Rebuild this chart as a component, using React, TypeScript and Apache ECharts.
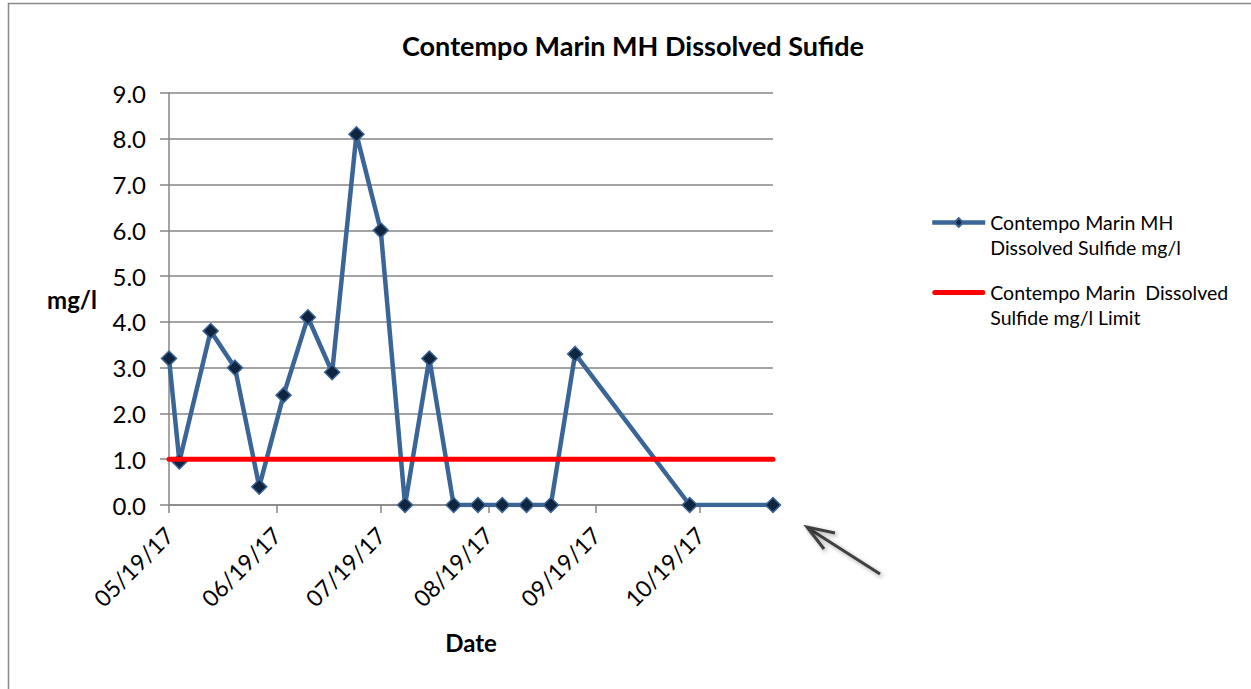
import React, { useEffect, useRef } from "react";
import * as echarts from "echarts";

const sampleDates = [
  "2017-05-19", "2017-05-22", "2017-05-31", "2017-06-07", "2017-06-14",
  "2017-06-21", "2017-06-28", "2017-07-05", "2017-07-12", "2017-07-19",
  "2017-07-26", "2017-08-02", "2017-08-09", "2017-08-16", "2017-08-23",
  "2017-08-30", "2017-09-06", "2017-09-13", "2017-10-16", "2017-11-09",
];
const sulfideValues = [
  3.2, 0.95, 3.8, 3.0, 0.4, 2.4, 4.1, 2.9, 8.1, 6.0,
  0.0, 3.2, 0.0, 0.0, 0.0, 0.0, 0.0, 3.3, 0.0, 0.0,
];
const limitValues = [
  1.0, 1.0, 1.0, 1.0, 1.0, 1.0, 1.0, 1.0, 1.0, 1.0,
  1.0, 1.0, 1.0, 1.0, 1.0, 1.0, 1.0, 1.0, 1.0, 1.0,
];
const tickDates = ["2017-05-19", "2017-06-19", "2017-07-19", "2017-08-19", "2017-09-19", "2017-10-19"];

const seriesName1 = "Contempo Marin MH\nDissolved Sulfide mg/l";
const seriesName2 = "Contempo Marin  Dissolved\nSulfide mg/l Limit";
const titleText = "Contempo Marin MH Dissolved Sufide";

const toTs = (s: string) => new Date(s + "T00:00:00").getTime();
const pad = (n: number) => (n < 10 ? "0" + n : "" + n);
const fmtDate = (v: number) => {
  const d = new Date(v);
  return `${pad(d.getMonth() + 1)}/${pad(d.getDate())}/${pad(d.getFullYear() % 100)}`;
};

const FONT = "Lato";
const BLUE = "#3B6497";

export default function App() {
  const ref = useRef<HTMLDivElement>(null);
  useEffect(() => {
    if (!ref.current) return;
    const chart = echarts.init(ref.current, undefined, { renderer: "svg" });
    const xs = sampleDates.map(toTs);
    const ticks = tickDates.map(toTs);
    chart.setOption({
      animation: false,
      backgroundColor: "#ffffff",
      textStyle: { fontFamily: FONT },
      title: {
        text: titleText,
        left: 628,
        top: 27,
        textAlign: "center",
        textStyle: { fontFamily: FONT, fontWeight: "bold", fontSize: 27, color: "#000" },
      },
      grid: { left: 169, right: 478, top: 93, bottom: 184, containLabel: false },
      legend: {
        orient: "vertical",
        left: 930,
        top: 185,
        padding: 0,
        itemWidth: 53,
        itemHeight: 11,
        itemGap: -5,
        formatter: (name: string) => "\n" + name,
        textStyle: { fontFamily: FONT, fontSize: 19.5, lineHeight: 25, color: "#000" },
        lineStyle: { width: 4.5 },
        data: [
          { name: seriesName1 },
          { name: seriesName2, icon: "path://M2.5,0 L50.5,0 A2.5,2.5 0 0 1 50.5,5 L2.5,5 A2.5,2.5 0 0 1 2.5,0 Z", itemStyle: { color: "#FF0000" } },
        ],
      },
      xAxis: {
        type: "value",
        min: xs[0],
        max: xs[xs.length - 1],
        name: "Date",
        nameLocation: "middle",
        nameGap: 125,
        nameTextStyle: { fontFamily: FONT, fontWeight: "bold", fontSize: 24, color: "#000" },
        axisLine: { show: true, lineStyle: { color: "#868686", width: 1.5 } },
        axisTick: { show: true, length: 8, lineStyle: { color: "#868686", width: 1.5 }, customValues: ticks },
        axisLabel: {
          customValues: ticks,
          rotate: 45,
          formatter: (v: number) => fmtDate(v),
          fontFamily: FONT,
          fontSize: 23,
          color: "#000",
          margin: 26,
        },
        splitLine: { show: false },
      },
      yAxis: {
        type: "value",
        min: 0,
        max: 9,
        interval: 1,
        name: "mg/l",
        nameLocation: "middle",
        nameRotate: 0,
        nameGap: 72,
        nameTextStyle: { fontFamily: FONT, fontWeight: "bold", fontSize: 24, color: "#000" },
        axisLine: { show: true, lineStyle: { color: "#868686", width: 1.5 } },
        axisTick: { show: true, length: 9, lineStyle: { color: "#868686", width: 1.5 } },
        axisLabel: {
          formatter: (v: number) => v.toFixed(1),
          fontFamily: FONT,
          fontSize: 24,
          color: "#000",
          margin: 23,
        },
        splitLine: { show: true, lineStyle: { color: "#868686", width: 1.5 } },
      },
      series: [
        {
          name: seriesName1,
          type: "line",
          data: xs.map((x, i) => [x, sulfideValues[i]]),
          symbol: "diamond",
          symbolSize: 15,
          lineStyle: { color: BLUE, width: 4.5 },
          itemStyle: { color: "#10253F", borderColor: BLUE, borderWidth: 1.5 },
          z: 2,
        },
        {
          name: seriesName2,
          type: "line",
          data: xs.map((x, i) => [x, limitValues[i]]),
          symbol: "none",
          lineStyle: { color: "#FF0000", width: 5, cap: "round" },
          itemStyle: { color: "#FF0000" },
          z: 3,
        },
      ],
      graphic: [
        {
          type: "rect",
          shape: { x: 8.5, y: 3.5, width: 1300, height: 800 },
          style: { fill: "none", stroke: "#888888", lineWidth: 1.5 },
          silent: true,
        },
        {
          type: "group",
          children: [
            {
              type: "line",
              shape: { x1: 880, y1: 574, x2: 808, y2: 528 },
              style: { stroke: "#404040", lineWidth: 3, shadowBlur: 4, shadowColor: "rgba(0,0,0,0.35)", shadowOffsetX: 2, shadowOffsetY: 2 },
            },
            {
              type: "polyline",
              shape: { points: [[835, 533], [807, 527], [824, 549]] },
              style: { stroke: "#404040", lineWidth: 3, fill: "none", shadowBlur: 4, shadowColor: "rgba(0,0,0,0.35)", shadowOffsetX: 2, shadowOffsetY: 2 },
            },
          ],
        },
      ],
    });
    return () => chart.dispose();
  }, []);
  return (
    <div
      ref={ref}
      style={{ position: "fixed", left: 0, top: 0, width: 1251, height: 689, background: "#fff" }}
    />
  );
}
